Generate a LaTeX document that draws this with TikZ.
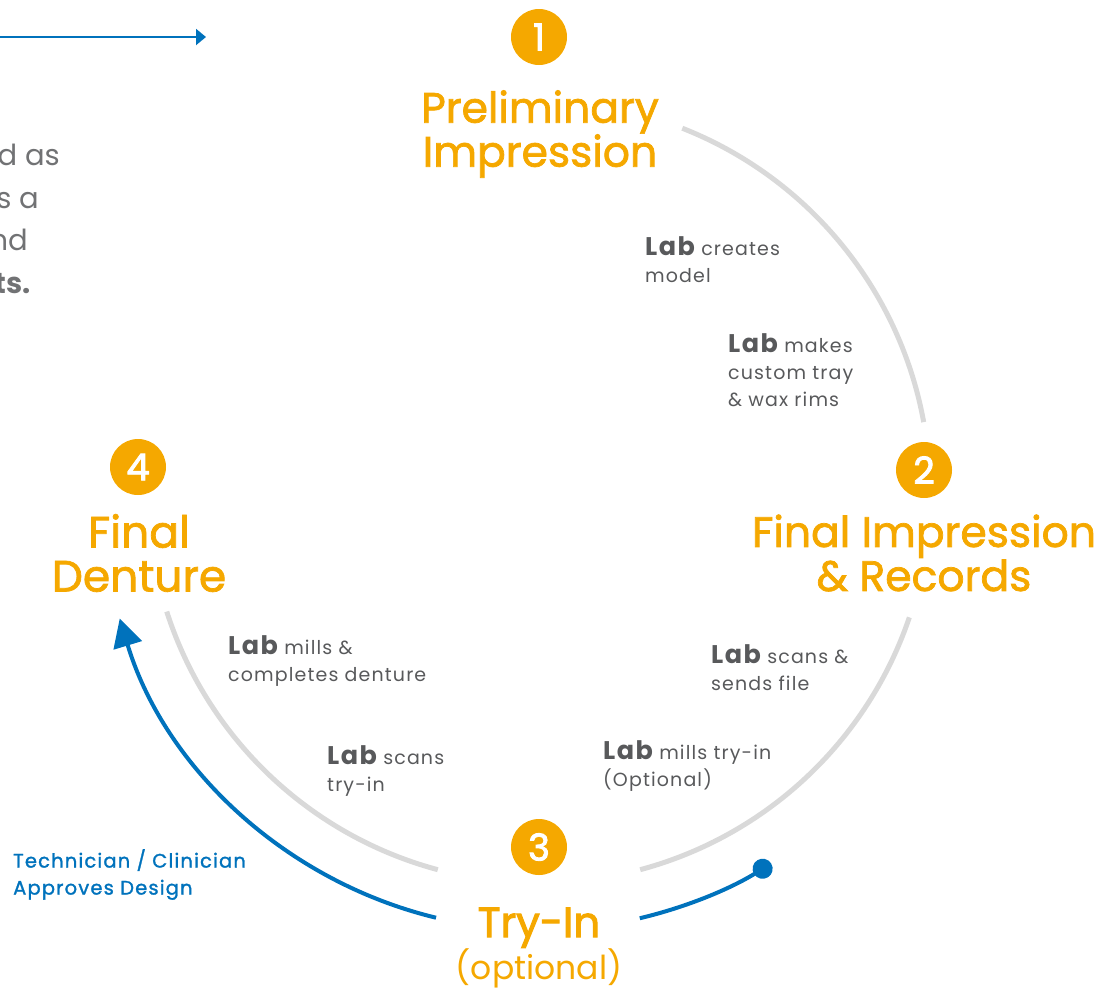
\documentclass[tikz,border=0pt]{standalone}
\usepackage{fontspec}
\setmainfont{Poppins}
\newfontfamily\headfont{Poppins}[FakeBold=1.7]
\newfontfamily\heavyfont{Poppins}[FakeBold=2.4]
\newfontfamily\notefont{Poppins}[LetterSpace=6]
\newfontfamily\bluefont{Poppins}[FakeBold=1.4,LetterSpace=6]
\usetikzlibrary{arrows.meta}

\definecolor{stageorange}{HTML}{F5A800}
\definecolor{flowblue}{HTML}{0072BC}
\definecolor{labgrey}{HTML}{58595B}
\definecolor{ringgrey}{HTML}{D9D9D9}

\tikzset{
  stepnum/.style={circle,fill=stageorange,text=white,minimum size=56pt,inner sep=0pt,
    font=\heavyfont\fontsize{37}{37}\selectfont},
  stagename/.style={text=stageorange,align=center,inner sep=0pt,
    font=\headfont\fontsize{42.5}{44}\selectfont},
  labnote/.style={text=labgrey,align=left,anchor=north west,inner sep=0pt,
    font=\notefont\fontsize{19}{27}\selectfont},
  ring/.style={ringgrey,line width=5pt},
  flow/.style={flowblue,line width=4pt},
}
\newcommand{\labword}{{\fontsize{25.5}{27}\selectfont\bfseries Lab}}

\begin{document}
\begin{tikzpicture}[x=1pt,y=1pt]
\useasboundingbox (0,0) rectangle (1113,-991);
\coordinate (ctr) at (539,-492);

% cut-off lead-in text and arrow
\coordinate (leadA) at (0,-37);
\coordinate (leadB) at (206,-37);
\draw[flowblue,line width=2pt,-{Triangle[length=10pt,width=16pt]}] (leadA) -- (leadB);
\begin{scope}[text=labgrey!85,inner sep=0pt,anchor=base east,font=\fontsize{29}{43}\selectfont]
  \node (lead1) at (60,-165) {d as};
  \node (lead2) at (39,-208) {s a};
  \node (lead3) at (28,-250) {nd};
  \node[font=\fontsize{29}{43}\selectfont\bfseries] (lead4) at (31,-293) {ts.};
\end{scope}

% ring between the stages
\draw[ring] ([shift={(68.5:391)}]ctr) arc[start angle=68.5,end angle=10.3,radius=391];
\draw[ring] ([shift={(-18.7:391)}]ctr) arc[start angle=-18.7,end angle=-75,radius=391];
\draw[ring] ([shift={(-105:391)}]ctr) arc[start angle=-105,end angle=-162.2,radius=391];

% blue design loop
\draw[flow,-{Circle[length=20pt]}] ([shift={(-76.7:438)}]ctr) arc[start angle=-76.7,end angle=-58.0,radius=438];
\draw[flow,-{Triangle[length=28pt,width=29pt]}] ([shift={(-103.6:438)}]ctr) arc[start angle=-103.6,end angle=-163.2,radius=438];

% stages
\node[stepnum] (n1) at (539,-37) {1};
\node[stagename] (s1) at (540,-134) {Preliminary\\Impression};
\node[stepnum] (n2) at (924,-470) {2};
\node[stagename] (s2) at (924,-553) {Final Impression\\\& Records};
\node[stepnum] (n3) at (539,-847) {3};
\node[text=stageorange,inner sep=0pt,anchor=base,font=\heavyfont\fontsize{42}{44}\selectfont] (s3) at (539,-937) {Try-In};
\node[text=stageorange,inner sep=0pt,anchor=base,font=\fontsize{33}{40}\selectfont] (s3b) at (539,-979) {(optional)};
\node[stepnum] (n4) at (138,-467) {4};
\node[stagename,font=\headfont\fontsize{44}{44}\selectfont] (s4) at (139,-553) {Final\\Denture};

% lab steps
\node[labnote] (l1) at (645,-236) {\labword{} creates\\model};
\node[labnote] (l2) at (728,-333) {\labword{} makes\\custom tray\\\& wax rims};
\node[labnote] (l3) at (711,-644) {\labword{} scans \&\\sends file};
\node[labnote] (l4) at (603,-740) {\labword{} mills try-in\\(Optional)};
\node[labnote] (l5) at (228,-635) {\labword{} mills \&\\completes denture};
\node[labnote] (l6) at (327,-745) {\labword{} scans\\try-in};

\node[text=flowblue,align=left,anchor=north west,inner sep=0pt,
  font=\bluefont\fontsize{19.5}{27}\selectfont] (tc) at (13,-849) {Technician / Clinician\\Approves Design};
\end{tikzpicture}
\end{document}
